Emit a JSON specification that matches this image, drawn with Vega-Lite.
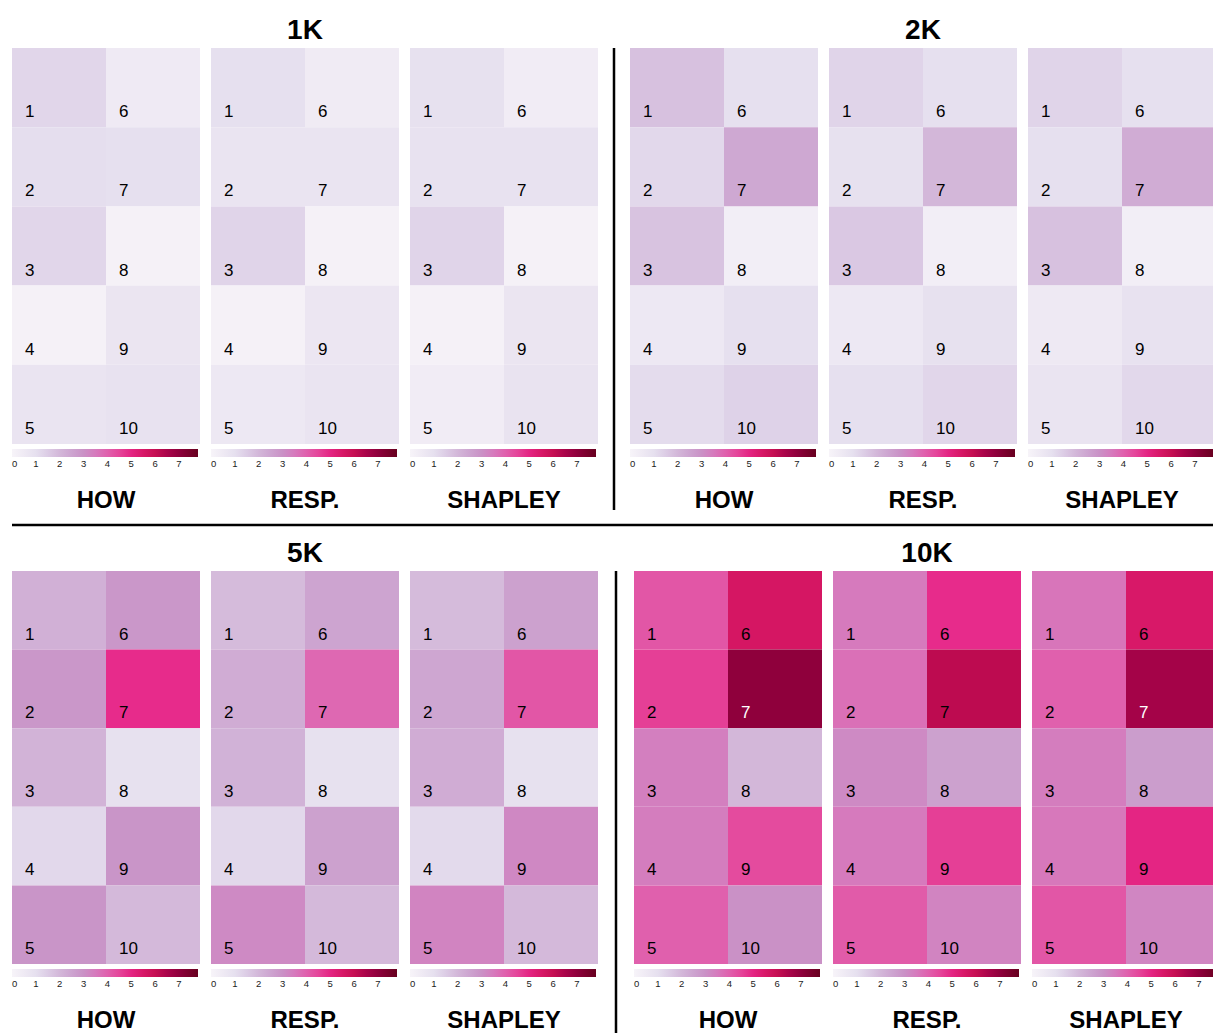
{
  "$schema": "https://vega.github.io/schema/vega-lite/v6.json",
  "background": "white",
  "padding": {"left": 10, "top": 17, "right": 0, "bottom": 0},
  "config": {
    "view": {"stroke": null},
    "font": "Liberation Sans",
    "title": {"color": "black"},
    "text": {"fontSize": 17},
    "legend": {"orient": "bottom", "direction": "horizontal", "gradientLength": 186, "gradientThickness": 8, "labelFontSize": 9.5, "labelColor": "#222", "offset": 5, "padding": 0, "labelOverlap": false, "gradientStrokeWidth": 0, "labelOffset": 5}
  },
  "datasets": {
    "d": [
      {"size": "1K", "method": "HOW", "cell": 1, "value": 1.25},
      {"size": "1K", "method": "HOW", "cell": 2, "value": 1.05},
      {"size": "1K", "method": "HOW", "cell": 3, "value": 1.25},
      {"size": "1K", "method": "HOW", "cell": 4, "value": 0.15},
      {"size": "1K", "method": "HOW", "cell": 5, "value": 0.8},
      {"size": "1K", "method": "HOW", "cell": 6, "value": 0.5},
      {"size": "1K", "method": "HOW", "cell": 7, "value": 1.0},
      {"size": "1K", "method": "HOW", "cell": 8, "value": 0.15},
      {"size": "1K", "method": "HOW", "cell": 9, "value": 0.75},
      {"size": "1K", "method": "HOW", "cell": 10, "value": 0.9},
      {"size": "1K", "method": "RESP.", "cell": 1, "value": 1.0},
      {"size": "1K", "method": "RESP.", "cell": 2, "value": 0.8},
      {"size": "1K", "method": "RESP.", "cell": 3, "value": 1.3},
      {"size": "1K", "method": "RESP.", "cell": 4, "value": 0.15},
      {"size": "1K", "method": "RESP.", "cell": 5, "value": 0.6},
      {"size": "1K", "method": "RESP.", "cell": 6, "value": 0.45},
      {"size": "1K", "method": "RESP.", "cell": 7, "value": 0.8},
      {"size": "1K", "method": "RESP.", "cell": 8, "value": 0.15},
      {"size": "1K", "method": "RESP.", "cell": 9, "value": 0.7},
      {"size": "1K", "method": "RESP.", "cell": 10, "value": 0.8},
      {"size": "1K", "method": "SHAPLEY", "cell": 1, "value": 0.95},
      {"size": "1K", "method": "SHAPLEY", "cell": 2, "value": 0.9},
      {"size": "1K", "method": "SHAPLEY", "cell": 3, "value": 1.3},
      {"size": "1K", "method": "SHAPLEY", "cell": 4, "value": 0.15},
      {"size": "1K", "method": "SHAPLEY", "cell": 5, "value": 0.4},
      {"size": "1K", "method": "SHAPLEY", "cell": 6, "value": 0.4},
      {"size": "1K", "method": "SHAPLEY", "cell": 7, "value": 0.9},
      {"size": "1K", "method": "SHAPLEY", "cell": 8, "value": 0.15},
      {"size": "1K", "method": "SHAPLEY", "cell": 9, "value": 0.75},
      {"size": "1K", "method": "SHAPLEY", "cell": 10, "value": 0.85},
      {"size": "2K", "method": "HOW", "cell": 1, "value": 1.75},
      {"size": "2K", "method": "HOW", "cell": 2, "value": 1.2},
      {"size": "2K", "method": "HOW", "cell": 3, "value": 1.7},
      {"size": "2K", "method": "HOW", "cell": 4, "value": 0.6},
      {"size": "2K", "method": "HOW", "cell": 5, "value": 1.1},
      {"size": "2K", "method": "HOW", "cell": 6, "value": 1.0},
      {"size": "2K", "method": "HOW", "cell": 7, "value": 2.4},
      {"size": "2K", "method": "HOW", "cell": 8, "value": 0.3},
      {"size": "2K", "method": "HOW", "cell": 9, "value": 1.0},
      {"size": "2K", "method": "HOW", "cell": 10, "value": 1.35},
      {"size": "2K", "method": "RESP.", "cell": 1, "value": 1.3},
      {"size": "2K", "method": "RESP.", "cell": 2, "value": 0.95},
      {"size": "2K", "method": "RESP.", "cell": 3, "value": 1.6},
      {"size": "2K", "method": "RESP.", "cell": 4, "value": 0.6},
      {"size": "2K", "method": "RESP.", "cell": 5, "value": 1.0},
      {"size": "2K", "method": "RESP.", "cell": 6, "value": 1.0},
      {"size": "2K", "method": "RESP.", "cell": 7, "value": 2.0},
      {"size": "2K", "method": "RESP.", "cell": 8, "value": 0.3},
      {"size": "2K", "method": "RESP.", "cell": 9, "value": 0.95},
      {"size": "2K", "method": "RESP.", "cell": 10, "value": 1.25},
      {"size": "2K", "method": "SHAPLEY", "cell": 1, "value": 1.3},
      {"size": "2K", "method": "SHAPLEY", "cell": 2, "value": 1.0},
      {"size": "2K", "method": "SHAPLEY", "cell": 3, "value": 1.75},
      {"size": "2K", "method": "SHAPLEY", "cell": 4, "value": 0.55},
      {"size": "2K", "method": "SHAPLEY", "cell": 5, "value": 0.8},
      {"size": "2K", "method": "SHAPLEY", "cell": 6, "value": 1.0},
      {"size": "2K", "method": "SHAPLEY", "cell": 7, "value": 2.3},
      {"size": "2K", "method": "SHAPLEY", "cell": 8, "value": 0.3},
      {"size": "2K", "method": "SHAPLEY", "cell": 9, "value": 0.9},
      {"size": "2K", "method": "SHAPLEY", "cell": 10, "value": 1.2},
      {"size": "5K", "method": "HOW", "cell": 1, "value": 2.2},
      {"size": "5K", "method": "HOW", "cell": 2, "value": 2.85},
      {"size": "5K", "method": "HOW", "cell": 3, "value": 2.1},
      {"size": "5K", "method": "HOW", "cell": 4, "value": 1.2},
      {"size": "5K", "method": "HOW", "cell": 5, "value": 2.9},
      {"size": "5K", "method": "HOW", "cell": 6, "value": 2.85},
      {"size": "5K", "method": "HOW", "cell": 7, "value": 4.85},
      {"size": "5K", "method": "HOW", "cell": 8, "value": 0.95},
      {"size": "5K", "method": "HOW", "cell": 9, "value": 2.9},
      {"size": "5K", "method": "HOW", "cell": 10, "value": 1.95},
      {"size": "5K", "method": "RESP.", "cell": 1, "value": 1.9},
      {"size": "5K", "method": "RESP.", "cell": 2, "value": 2.3},
      {"size": "5K", "method": "RESP.", "cell": 3, "value": 2.15},
      {"size": "5K", "method": "RESP.", "cell": 4, "value": 1.2},
      {"size": "5K", "method": "RESP.", "cell": 5, "value": 3.15},
      {"size": "5K", "method": "RESP.", "cell": 6, "value": 2.5},
      {"size": "5K", "method": "RESP.", "cell": 7, "value": 3.85},
      {"size": "5K", "method": "RESP.", "cell": 8, "value": 0.95},
      {"size": "5K", "method": "RESP.", "cell": 9, "value": 2.6},
      {"size": "5K", "method": "RESP.", "cell": 10, "value": 1.95},
      {"size": "5K", "method": "SHAPLEY", "cell": 1, "value": 1.9},
      {"size": "5K", "method": "SHAPLEY", "cell": 2, "value": 2.45},
      {"size": "5K", "method": "SHAPLEY", "cell": 3, "value": 2.3},
      {"size": "5K", "method": "SHAPLEY", "cell": 4, "value": 1.15},
      {"size": "5K", "method": "SHAPLEY", "cell": 5, "value": 3.3},
      {"size": "5K", "method": "SHAPLEY", "cell": 6, "value": 2.6},
      {"size": "5K", "method": "SHAPLEY", "cell": 7, "value": 4.2},
      {"size": "5K", "method": "SHAPLEY", "cell": 8, "value": 0.95},
      {"size": "5K", "method": "SHAPLEY", "cell": 9, "value": 3.2},
      {"size": "5K", "method": "SHAPLEY", "cell": 10, "value": 1.95},
      {"size": "10K", "method": "HOW", "cell": 1, "value": 4.2},
      {"size": "10K", "method": "HOW", "cell": 2, "value": 4.6},
      {"size": "10K", "method": "HOW", "cell": 3, "value": 3.4},
      {"size": "10K", "method": "HOW", "cell": 4, "value": 3.45},
      {"size": "10K", "method": "HOW", "cell": 5, "value": 4.0},
      {"size": "10K", "method": "HOW", "cell": 6, "value": 5.6},
      {"size": "10K", "method": "HOW", "cell": 7, "value": 7.0},
      {"size": "10K", "method": "HOW", "cell": 8, "value": 2.0},
      {"size": "10K", "method": "HOW", "cell": 9, "value": 4.4},
      {"size": "10K", "method": "HOW", "cell": 10, "value": 3.0},
      {"size": "10K", "method": "RESP.", "cell": 1, "value": 3.5},
      {"size": "10K", "method": "RESP.", "cell": 2, "value": 3.7},
      {"size": "10K", "method": "RESP.", "cell": 3, "value": 3.15},
      {"size": "10K", "method": "RESP.", "cell": 4, "value": 3.5},
      {"size": "10K", "method": "RESP.", "cell": 5, "value": 4.1},
      {"size": "10K", "method": "RESP.", "cell": 6, "value": 4.85},
      {"size": "10K", "method": "RESP.", "cell": 7, "value": 6.15},
      {"size": "10K", "method": "RESP.", "cell": 8, "value": 2.6},
      {"size": "10K", "method": "RESP.", "cell": 9, "value": 4.6},
      {"size": "10K", "method": "RESP.", "cell": 10, "value": 3.3},
      {"size": "10K", "method": "SHAPLEY", "cell": 1, "value": 3.6},
      {"size": "10K", "method": "SHAPLEY", "cell": 2, "value": 4.0},
      {"size": "10K", "method": "SHAPLEY", "cell": 3, "value": 3.45},
      {"size": "10K", "method": "SHAPLEY", "cell": 4, "value": 3.55},
      {"size": "10K", "method": "SHAPLEY", "cell": 5, "value": 4.2},
      {"size": "10K", "method": "SHAPLEY", "cell": 6, "value": 5.5},
      {"size": "10K", "method": "SHAPLEY", "cell": 7, "value": 6.6},
      {"size": "10K", "method": "SHAPLEY", "cell": 8, "value": 2.7},
      {"size": "10K", "method": "SHAPLEY", "cell": 9, "value": 5.0},
      {"size": "10K", "method": "SHAPLEY", "cell": 10, "value": 3.25}
    ],
    "sep": [{"pos": 0}],
    "hsep": [{"pos": 0.85}]
  },
  "spacing": 10,
  "resolve": {"scale": {"color": "independent"}, "legend": {"color": "independent"}},
  "vconcat": [
    {
      "spacing": 14,
      "resolve": {"scale": {"color": "independent"}, "legend": {"color": "independent"}},
      "hconcat": [
        {
          "title": {"text": "1K", "fontSize": 28, "fontWeight": "bold", "anchor": "middle", "offset": 3},
          "spacing": 11,
          "resolve": {"scale": {"color": "independent"}, "legend": {"color": "independent"}},
          "hconcat": [
            {"data": {"name": "d"}, "width": 188, "height": 396, "title": {"text": "HOW", "orient": "bottom", "fontSize": 24, "fontWeight": "bold", "offset": 20},
             "transform": [{"filter": "datum.size === '1K' && datum.method === 'HOW'"}, {"calculate": "datum.cell > 5 ? 1 : 0", "as": "col"}, {"calculate": "(datum.cell - 1) % 5", "as": "row"}],
             "layer": [
               {"mark": {"type": "rect"}, "encoding": {"x": {"field": "col", "type": "ordinal", "axis": null}, "y": {"field": "row", "type": "ordinal", "axis": null}, "color": {"field": "value", "type": "quantitative", "scale": {"domain": [0, 0.975, 1.95, 2.925, 3.9, 4.875, 5.85, 6.825, 7.8], "range": ["#f7f4f9", "#e7e1ef", "#d4b9da", "#c994c7", "#df65b0", "#e7298a", "#ce1256", "#980043", "#67001f"]}, "legend": {"title": null, "values": [0, 1, 2, 3, 4, 5, 6, 7]}}}},
               {"mark": {"type": "text", "align": "left", "baseline": "middle", "dx": 13}, "encoding": {"x": {"field": "col", "type": "ordinal", "axis": null, "bandPosition": 0}, "y": {"field": "row", "type": "ordinal", "axis": null, "bandPosition": 0.81}, "text": {"field": "cell"}, "color": {"condition": {"test": "datum.value > 6.3", "value": "white"}, "value": "black"}}}
             ]},
            {"data": {"name": "d"}, "width": 188, "height": 396, "title": {"text": "RESP.", "orient": "bottom", "fontSize": 24, "fontWeight": "bold", "offset": 20},
             "transform": [{"filter": "datum.size === '1K' && datum.method === 'RESP.'"}, {"calculate": "datum.cell > 5 ? 1 : 0", "as": "col"}, {"calculate": "(datum.cell - 1) % 5", "as": "row"}],
             "layer": [
               {"mark": {"type": "rect"}, "encoding": {"x": {"field": "col", "type": "ordinal", "axis": null}, "y": {"field": "row", "type": "ordinal", "axis": null}, "color": {"field": "value", "type": "quantitative", "scale": {"domain": [0, 0.975, 1.95, 2.925, 3.9, 4.875, 5.85, 6.825, 7.8], "range": ["#f7f4f9", "#e7e1ef", "#d4b9da", "#c994c7", "#df65b0", "#e7298a", "#ce1256", "#980043", "#67001f"]}, "legend": {"title": null, "values": [0, 1, 2, 3, 4, 5, 6, 7]}}}},
               {"mark": {"type": "text", "align": "left", "baseline": "middle", "dx": 13}, "encoding": {"x": {"field": "col", "type": "ordinal", "axis": null, "bandPosition": 0}, "y": {"field": "row", "type": "ordinal", "axis": null, "bandPosition": 0.81}, "text": {"field": "cell"}, "color": {"condition": {"test": "datum.value > 6.3", "value": "white"}, "value": "black"}}}
             ]},
            {"data": {"name": "d"}, "width": 188, "height": 396, "title": {"text": "SHAPLEY", "orient": "bottom", "fontSize": 24, "fontWeight": "bold", "offset": 20},
             "transform": [{"filter": "datum.size === '1K' && datum.method === 'SHAPLEY'"}, {"calculate": "datum.cell > 5 ? 1 : 0", "as": "col"}, {"calculate": "(datum.cell - 1) % 5", "as": "row"}],
             "layer": [
               {"mark": {"type": "rect"}, "encoding": {"x": {"field": "col", "type": "ordinal", "axis": null}, "y": {"field": "row", "type": "ordinal", "axis": null}, "color": {"field": "value", "type": "quantitative", "scale": {"domain": [0, 0.975, 1.95, 2.925, 3.9, 4.875, 5.85, 6.825, 7.8], "range": ["#f7f4f9", "#e7e1ef", "#d4b9da", "#c994c7", "#df65b0", "#e7298a", "#ce1256", "#980043", "#67001f"]}, "legend": {"title": null, "values": [0, 1, 2, 3, 4, 5, 6, 7]}}}},
               {"mark": {"type": "text", "align": "left", "baseline": "middle", "dx": 13}, "encoding": {"x": {"field": "col", "type": "ordinal", "axis": null, "bandPosition": 0}, "y": {"field": "row", "type": "ordinal", "axis": null, "bandPosition": 0.81}, "text": {"field": "cell"}, "color": {"condition": {"test": "datum.value > 6.3", "value": "white"}, "value": "black"}}}
             ]}
          ]
        },
        {"data": {"name": "sep"}, "width": 2, "height": 462, "mark": {"type": "rule", "color": "black", "strokeWidth": 2.5}, "encoding": {"x": {"field": "pos", "type": "quantitative", "axis": null, "scale": {"domain": [-1, 1]}}}},
        {
          "title": {"text": "2K", "fontSize": 28, "fontWeight": "bold", "anchor": "middle", "offset": 3},
          "spacing": 11,
          "resolve": {"scale": {"color": "independent"}, "legend": {"color": "independent"}},
          "hconcat": [
            {"data": {"name": "d"}, "width": 188, "height": 396, "title": {"text": "HOW", "orient": "bottom", "fontSize": 24, "fontWeight": "bold", "offset": 20},
             "transform": [{"filter": "datum.size === '2K' && datum.method === 'HOW'"}, {"calculate": "datum.cell > 5 ? 1 : 0", "as": "col"}, {"calculate": "(datum.cell - 1) % 5", "as": "row"}],
             "layer": [
               {"mark": {"type": "rect"}, "encoding": {"x": {"field": "col", "type": "ordinal", "axis": null}, "y": {"field": "row", "type": "ordinal", "axis": null}, "color": {"field": "value", "type": "quantitative", "scale": {"domain": [0, 0.975, 1.95, 2.925, 3.9, 4.875, 5.85, 6.825, 7.8], "range": ["#f7f4f9", "#e7e1ef", "#d4b9da", "#c994c7", "#df65b0", "#e7298a", "#ce1256", "#980043", "#67001f"]}, "legend": {"title": null, "values": [0, 1, 2, 3, 4, 5, 6, 7]}}}},
               {"mark": {"type": "text", "align": "left", "baseline": "middle", "dx": 13}, "encoding": {"x": {"field": "col", "type": "ordinal", "axis": null, "bandPosition": 0}, "y": {"field": "row", "type": "ordinal", "axis": null, "bandPosition": 0.81}, "text": {"field": "cell"}, "color": {"condition": {"test": "datum.value > 6.3", "value": "white"}, "value": "black"}}}
             ]},
            {"data": {"name": "d"}, "width": 188, "height": 396, "title": {"text": "RESP.", "orient": "bottom", "fontSize": 24, "fontWeight": "bold", "offset": 20},
             "transform": [{"filter": "datum.size === '2K' && datum.method === 'RESP.'"}, {"calculate": "datum.cell > 5 ? 1 : 0", "as": "col"}, {"calculate": "(datum.cell - 1) % 5", "as": "row"}],
             "layer": [
               {"mark": {"type": "rect"}, "encoding": {"x": {"field": "col", "type": "ordinal", "axis": null}, "y": {"field": "row", "type": "ordinal", "axis": null}, "color": {"field": "value", "type": "quantitative", "scale": {"domain": [0, 0.975, 1.95, 2.925, 3.9, 4.875, 5.85, 6.825, 7.8], "range": ["#f7f4f9", "#e7e1ef", "#d4b9da", "#c994c7", "#df65b0", "#e7298a", "#ce1256", "#980043", "#67001f"]}, "legend": {"title": null, "values": [0, 1, 2, 3, 4, 5, 6, 7]}}}},
               {"mark": {"type": "text", "align": "left", "baseline": "middle", "dx": 13}, "encoding": {"x": {"field": "col", "type": "ordinal", "axis": null, "bandPosition": 0}, "y": {"field": "row", "type": "ordinal", "axis": null, "bandPosition": 0.81}, "text": {"field": "cell"}, "color": {"condition": {"test": "datum.value > 6.3", "value": "white"}, "value": "black"}}}
             ]},
            {"data": {"name": "d"}, "width": 188, "height": 396, "title": {"text": "SHAPLEY", "orient": "bottom", "fontSize": 24, "fontWeight": "bold", "offset": 20},
             "transform": [{"filter": "datum.size === '2K' && datum.method === 'SHAPLEY'"}, {"calculate": "datum.cell > 5 ? 1 : 0", "as": "col"}, {"calculate": "(datum.cell - 1) % 5", "as": "row"}],
             "layer": [
               {"mark": {"type": "rect"}, "encoding": {"x": {"field": "col", "type": "ordinal", "axis": null}, "y": {"field": "row", "type": "ordinal", "axis": null}, "color": {"field": "value", "type": "quantitative", "scale": {"domain": [0, 0.975, 1.95, 2.925, 3.9, 4.875, 5.85, 6.825, 7.8], "range": ["#f7f4f9", "#e7e1ef", "#d4b9da", "#c994c7", "#df65b0", "#e7298a", "#ce1256", "#980043", "#67001f"]}, "legend": {"title": null, "values": [0, 1, 2, 3, 4, 5, 6, 7]}}}},
               {"mark": {"type": "text", "align": "left", "baseline": "middle", "dx": 13}, "encoding": {"x": {"field": "col", "type": "ordinal", "axis": null, "bandPosition": 0}, "y": {"field": "row", "type": "ordinal", "axis": null, "bandPosition": 0.81}, "text": {"field": "cell"}, "color": {"condition": {"test": "datum.value > 6.3", "value": "white"}, "value": "black"}}}
             ]}
          ]
        }
      ]
    },
    {"data": {"name": "hsep"}, "width": 1203, "height": 6, "mark": {"type": "rule", "color": "black", "strokeWidth": 2.5}, "encoding": {"y": {"field": "pos", "type": "quantitative", "axis": null, "scale": {"domain": [0, 1]}}}},
    {
      "spacing": 16,
      "resolve": {"scale": {"color": "independent"}, "legend": {"color": "independent"}},
      "hconcat": [
        {
          "title": {"text": "5K", "fontSize": 28, "fontWeight": "bold", "anchor": "middle", "offset": 3},
          "spacing": 11,
          "resolve": {"scale": {"color": "independent"}, "legend": {"color": "independent"}},
          "hconcat": [
            {"data": {"name": "d"}, "width": 188, "height": 393, "title": {"text": "HOW", "orient": "bottom", "fontSize": 24, "fontWeight": "bold", "offset": 20},
             "transform": [{"filter": "datum.size === '5K' && datum.method === 'HOW'"}, {"calculate": "datum.cell > 5 ? 1 : 0", "as": "col"}, {"calculate": "(datum.cell - 1) % 5", "as": "row"}],
             "layer": [
               {"mark": {"type": "rect"}, "encoding": {"x": {"field": "col", "type": "ordinal", "axis": null}, "y": {"field": "row", "type": "ordinal", "axis": null}, "color": {"field": "value", "type": "quantitative", "scale": {"domain": [0, 0.975, 1.95, 2.925, 3.9, 4.875, 5.85, 6.825, 7.8], "range": ["#f7f4f9", "#e7e1ef", "#d4b9da", "#c994c7", "#df65b0", "#e7298a", "#ce1256", "#980043", "#67001f"]}, "legend": {"title": null, "values": [0, 1, 2, 3, 4, 5, 6, 7]}}}},
               {"mark": {"type": "text", "align": "left", "baseline": "middle", "dx": 13}, "encoding": {"x": {"field": "col", "type": "ordinal", "axis": null, "bandPosition": 0}, "y": {"field": "row", "type": "ordinal", "axis": null, "bandPosition": 0.81}, "text": {"field": "cell"}, "color": {"condition": {"test": "datum.value > 6.3", "value": "white"}, "value": "black"}}}
             ]},
            {"data": {"name": "d"}, "width": 188, "height": 393, "title": {"text": "RESP.", "orient": "bottom", "fontSize": 24, "fontWeight": "bold", "offset": 20},
             "transform": [{"filter": "datum.size === '5K' && datum.method === 'RESP.'"}, {"calculate": "datum.cell > 5 ? 1 : 0", "as": "col"}, {"calculate": "(datum.cell - 1) % 5", "as": "row"}],
             "layer": [
               {"mark": {"type": "rect"}, "encoding": {"x": {"field": "col", "type": "ordinal", "axis": null}, "y": {"field": "row", "type": "ordinal", "axis": null}, "color": {"field": "value", "type": "quantitative", "scale": {"domain": [0, 0.975, 1.95, 2.925, 3.9, 4.875, 5.85, 6.825, 7.8], "range": ["#f7f4f9", "#e7e1ef", "#d4b9da", "#c994c7", "#df65b0", "#e7298a", "#ce1256", "#980043", "#67001f"]}, "legend": {"title": null, "values": [0, 1, 2, 3, 4, 5, 6, 7]}}}},
               {"mark": {"type": "text", "align": "left", "baseline": "middle", "dx": 13}, "encoding": {"x": {"field": "col", "type": "ordinal", "axis": null, "bandPosition": 0}, "y": {"field": "row", "type": "ordinal", "axis": null, "bandPosition": 0.81}, "text": {"field": "cell"}, "color": {"condition": {"test": "datum.value > 6.3", "value": "white"}, "value": "black"}}}
             ]},
            {"data": {"name": "d"}, "width": 188, "height": 393, "title": {"text": "SHAPLEY", "orient": "bottom", "fontSize": 24, "fontWeight": "bold", "offset": 20},
             "transform": [{"filter": "datum.size === '5K' && datum.method === 'SHAPLEY'"}, {"calculate": "datum.cell > 5 ? 1 : 0", "as": "col"}, {"calculate": "(datum.cell - 1) % 5", "as": "row"}],
             "layer": [
               {"mark": {"type": "rect"}, "encoding": {"x": {"field": "col", "type": "ordinal", "axis": null}, "y": {"field": "row", "type": "ordinal", "axis": null}, "color": {"field": "value", "type": "quantitative", "scale": {"domain": [0, 0.975, 1.95, 2.925, 3.9, 4.875, 5.85, 6.825, 7.8], "range": ["#f7f4f9", "#e7e1ef", "#d4b9da", "#c994c7", "#df65b0", "#e7298a", "#ce1256", "#980043", "#67001f"]}, "legend": {"title": null, "values": [0, 1, 2, 3, 4, 5, 6, 7]}}}},
               {"mark": {"type": "text", "align": "left", "baseline": "middle", "dx": 13}, "encoding": {"x": {"field": "col", "type": "ordinal", "axis": null, "bandPosition": 0}, "y": {"field": "row", "type": "ordinal", "axis": null, "bandPosition": 0.81}, "text": {"field": "cell"}, "color": {"condition": {"test": "datum.value > 6.3", "value": "white"}, "value": "black"}}}
             ]}
          ]
        },
        {"data": {"name": "sep"}, "width": 2, "height": 470, "mark": {"type": "rule", "color": "black", "strokeWidth": 2.5}, "encoding": {"x": {"field": "pos", "type": "quantitative", "axis": null, "scale": {"domain": [-1, 1]}}}},
        {
          "title": {"text": "10K", "fontSize": 28, "fontWeight": "bold", "anchor": "middle", "offset": 3},
          "spacing": 11,
          "resolve": {"scale": {"color": "independent"}, "legend": {"color": "independent"}},
          "hconcat": [
            {"data": {"name": "d"}, "width": 188, "height": 393, "title": {"text": "HOW", "orient": "bottom", "fontSize": 24, "fontWeight": "bold", "offset": 20},
             "transform": [{"filter": "datum.size === '10K' && datum.method === 'HOW'"}, {"calculate": "datum.cell > 5 ? 1 : 0", "as": "col"}, {"calculate": "(datum.cell - 1) % 5", "as": "row"}],
             "layer": [
               {"mark": {"type": "rect"}, "encoding": {"x": {"field": "col", "type": "ordinal", "axis": null}, "y": {"field": "row", "type": "ordinal", "axis": null}, "color": {"field": "value", "type": "quantitative", "scale": {"domain": [0, 0.975, 1.95, 2.925, 3.9, 4.875, 5.85, 6.825, 7.8], "range": ["#f7f4f9", "#e7e1ef", "#d4b9da", "#c994c7", "#df65b0", "#e7298a", "#ce1256", "#980043", "#67001f"]}, "legend": {"title": null, "values": [0, 1, 2, 3, 4, 5, 6, 7]}}}},
               {"mark": {"type": "text", "align": "left", "baseline": "middle", "dx": 13}, "encoding": {"x": {"field": "col", "type": "ordinal", "axis": null, "bandPosition": 0}, "y": {"field": "row", "type": "ordinal", "axis": null, "bandPosition": 0.81}, "text": {"field": "cell"}, "color": {"condition": {"test": "datum.value > 6.3", "value": "white"}, "value": "black"}}}
             ]},
            {"data": {"name": "d"}, "width": 188, "height": 393, "title": {"text": "RESP.", "orient": "bottom", "fontSize": 24, "fontWeight": "bold", "offset": 20},
             "transform": [{"filter": "datum.size === '10K' && datum.method === 'RESP.'"}, {"calculate": "datum.cell > 5 ? 1 : 0", "as": "col"}, {"calculate": "(datum.cell - 1) % 5", "as": "row"}],
             "layer": [
               {"mark": {"type": "rect"}, "encoding": {"x": {"field": "col", "type": "ordinal", "axis": null}, "y": {"field": "row", "type": "ordinal", "axis": null}, "color": {"field": "value", "type": "quantitative", "scale": {"domain": [0, 0.975, 1.95, 2.925, 3.9, 4.875, 5.85, 6.825, 7.8], "range": ["#f7f4f9", "#e7e1ef", "#d4b9da", "#c994c7", "#df65b0", "#e7298a", "#ce1256", "#980043", "#67001f"]}, "legend": {"title": null, "values": [0, 1, 2, 3, 4, 5, 6, 7]}}}},
               {"mark": {"type": "text", "align": "left", "baseline": "middle", "dx": 13}, "encoding": {"x": {"field": "col", "type": "ordinal", "axis": null, "bandPosition": 0}, "y": {"field": "row", "type": "ordinal", "axis": null, "bandPosition": 0.81}, "text": {"field": "cell"}, "color": {"condition": {"test": "datum.value > 6.3", "value": "white"}, "value": "black"}}}
             ]},
            {"data": {"name": "d"}, "width": 188, "height": 393, "title": {"text": "SHAPLEY", "orient": "bottom", "fontSize": 24, "fontWeight": "bold", "offset": 20},
             "transform": [{"filter": "datum.size === '10K' && datum.method === 'SHAPLEY'"}, {"calculate": "datum.cell > 5 ? 1 : 0", "as": "col"}, {"calculate": "(datum.cell - 1) % 5", "as": "row"}],
             "layer": [
               {"mark": {"type": "rect"}, "encoding": {"x": {"field": "col", "type": "ordinal", "axis": null}, "y": {"field": "row", "type": "ordinal", "axis": null}, "color": {"field": "value", "type": "quantitative", "scale": {"domain": [0, 0.975, 1.95, 2.925, 3.9, 4.875, 5.85, 6.825, 7.8], "range": ["#f7f4f9", "#e7e1ef", "#d4b9da", "#c994c7", "#df65b0", "#e7298a", "#ce1256", "#980043", "#67001f"]}, "legend": {"title": null, "values": [0, 1, 2, 3, 4, 5, 6, 7]}}}},
               {"mark": {"type": "text", "align": "left", "baseline": "middle", "dx": 13}, "encoding": {"x": {"field": "col", "type": "ordinal", "axis": null, "bandPosition": 0}, "y": {"field": "row", "type": "ordinal", "axis": null, "bandPosition": 0.81}, "text": {"field": "cell"}, "color": {"condition": {"test": "datum.value > 6.3", "value": "white"}, "value": "black"}}}
             ]}
          ]
        }
      ]
    }
  ]
}
